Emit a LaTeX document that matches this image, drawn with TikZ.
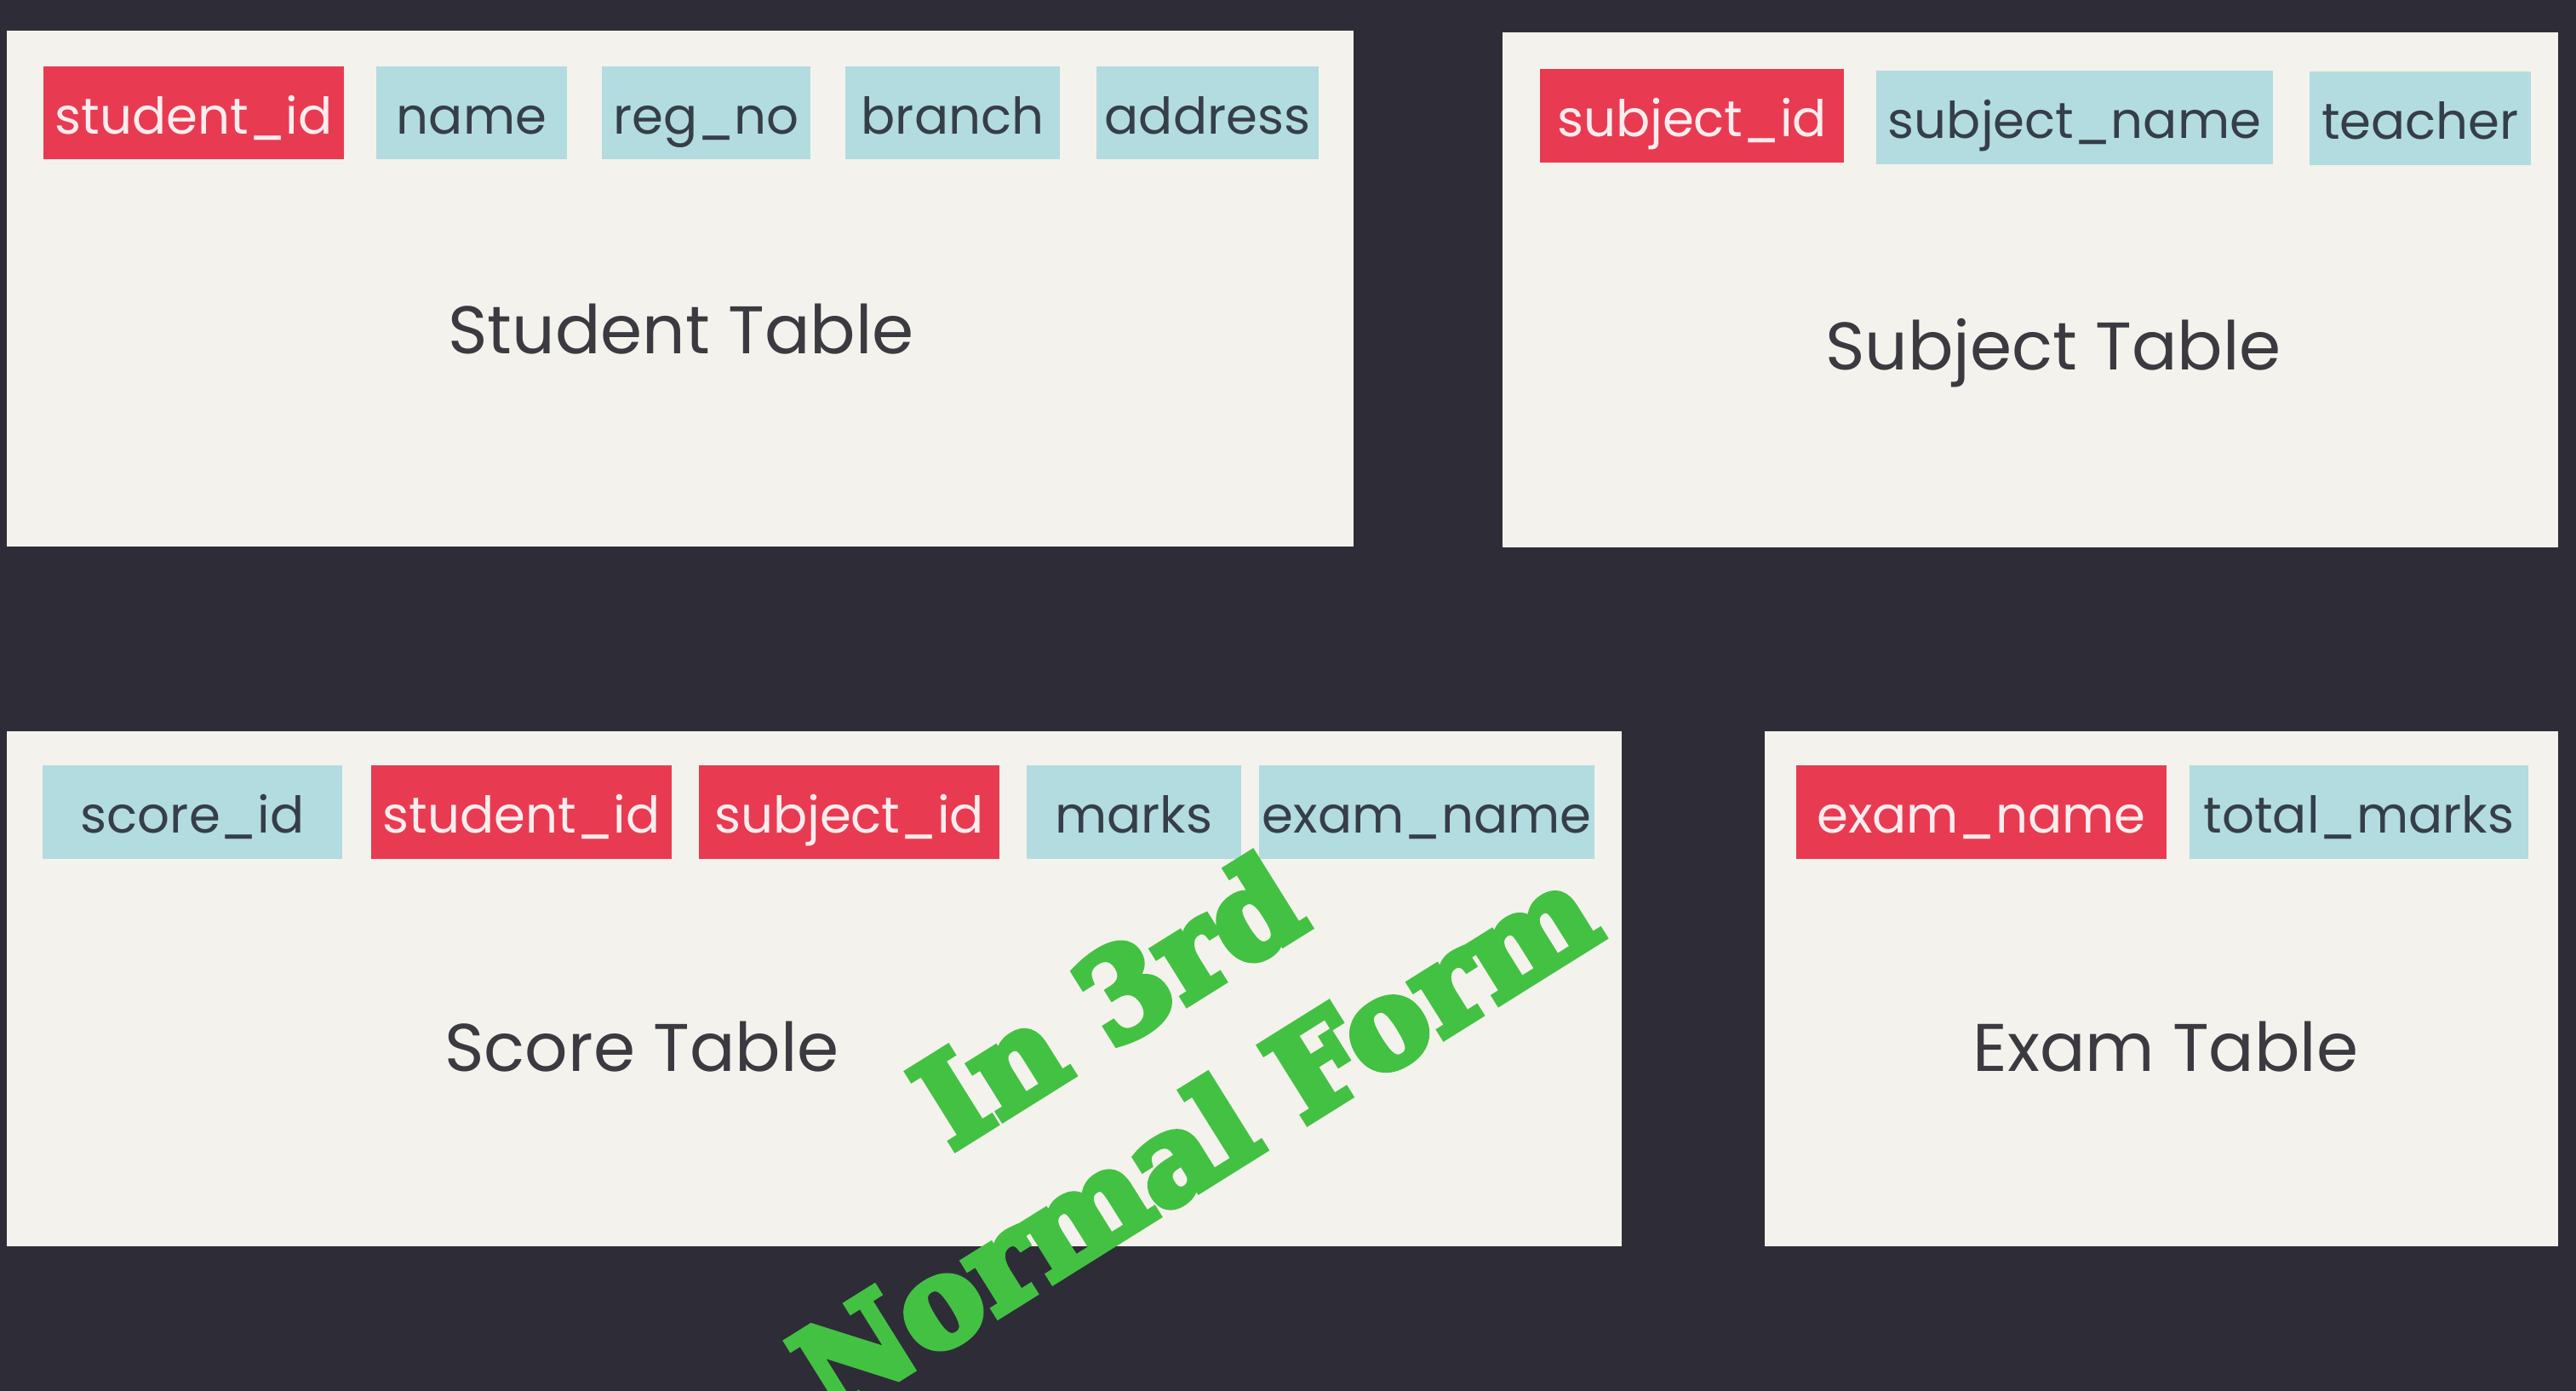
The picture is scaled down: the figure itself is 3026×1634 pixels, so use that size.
\documentclass[tikz,border=0pt]{standalone}
\usepackage{fontspec}
\setmainfont{Poppins}
\newfontfamily\slabfont{DejaVu Serif Bold}[FakeBold=6]
\definecolor{bgdark}{HTML}{2E2D37}
\definecolor{panelc}{HTML}{F4F2EC}
\definecolor{keyred}{HTML}{E83B52}
\definecolor{keytext}{HTML}{FBEDEE}
\definecolor{attrteal}{HTML}{B2DCE0}
\definecolor{attrtext}{HTML}{363E49}
\definecolor{titletext}{HTML}{3A3A40}
\definecolor{stampgreen}{HTML}{43C143}
\newcommand\fieldbox[7]{%
  \node[#2, minimum width={(#4-#3)*0.01cm}, minimum height={(#6-#5)*0.01cm}]
    (#1) at ({(#3+#4)/2},{(#5+#6)/2}) {#7};}
\newcommand\panelbox[5]{%
  \node[panel, minimum width={(#3-#2)*0.01cm}, minimum height={(#5-#4)*0.01cm}]
    (#1) at ({(#2+#3)/2},{(#4+#5)/2}) {};}
\begin{document}
\begin{tikzpicture}[x=0.01cm,y=-0.01cm,
  panel/.style={fill=panelc, inner sep=0, outer sep=0},
  field/.style={inner sep=0, outer sep=0, text height=0.79cm, text depth=0.30cm,
    font=\fontsize{16.9}{20}\selectfont},
  keyf/.style={field, fill=keyred, text=keytext},
  attrf/.style={field, fill=attrteal, text=attrtext},
  tabletitle/.style={anchor=base, inner sep=0, text=titletext,
    font=\fontsize{22.5}{26}\selectfont},
  stamp/.style={anchor=base, inner sep=0, rotate=32, text=stampgreen,
    font=\slabfont\fontsize{41}{48}\selectfont}]
\fill[bgdark] (0,0) rectangle (3026,1634);
\useasboundingbox (0,0) rectangle (3026,1634);
% panels
\panelbox{student}{8}{1590}{36}{642}
\panelbox{subject}{1765}{3005}{38}{643}
\panelbox{score}{8}{1905}{859}{1464}
\panelbox{exam}{2073}{3005}{859}{1464}
% student table
\fieldbox{st1}{keyf}{51}{404}{78}{187}{student\_id}
\fieldbox{st2}{attrf}{442}{666}{78}{187}{name}
\fieldbox{st3}{attrf}{707}{952}{78}{187}{reg\_no}
\fieldbox{st4}{attrf}{993}{1245}{78}{187}{branch}
\fieldbox{st5}{attrf}{1288}{1549}{78}{187}{address}
\node[tabletitle] (sttitle) at (800,416) {Student Table};
% subject table
\fieldbox{su1}{keyf}{1809}{2166}{82}{190}{subject\_id}
\fieldbox{su2}{attrf}{2204}{2670}{84}{192}{subject\_name}
\fieldbox{su3}{attrf}{2713}{2973}{85}{193}{teacher}
\node[tabletitle] (sutitle) at (2412,435) {Subject Table};
% score table
\fieldbox{sc1}{attrf}{50}{402}{901}{1007}{score\_id}
\fieldbox{sc2}{keyf}{436}{789}{901}{1007}{student\_id}
\fieldbox{sc3}{keyf}{821}{1174}{901}{1007}{subject\_id}
\fieldbox{sc4}{attrf}{1206}{1458}{901}{1007}{marks}
\fieldbox{sc5}{attrf}{1479}{1873}{901}{1007}{exam\_name}
\node[tabletitle] (sctitle) at (754,1258) {Score Table};
% exam table
\fieldbox{ex1}{keyf}{2110}{2545}{901}{1007}{exam\_name}
\fieldbox{ex2}{attrf}{2572}{2970}{901}{1007}{total\_marks}
\node[tabletitle] (extitle) at (2544,1258) {Exam Table};
% stamp
\node[stamp] (stampa) at (1329,1220) {In 3rd};
\node[stamp] (stampb) at (1431,1384) {Normal Form};
\end{tikzpicture}
\end{document}
